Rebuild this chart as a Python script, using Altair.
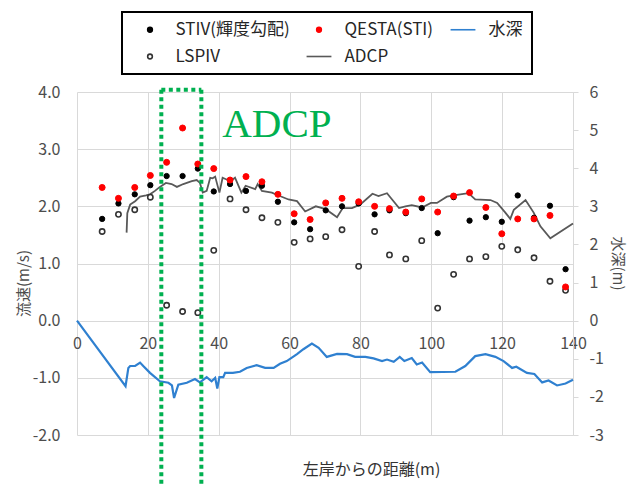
import altair as alt
import pandas as pd

# ---- measurement stations (distance from left bank, m) and surface velocities (m/s)
dist = [7.1, 11.7, 16.3, 20.7, 25.3, 29.8, 34.1, 38.6, 43.2, 47.7, 52.2, 56.7, 61.3, 65.8, 70.2,
        74.8, 79.5, 84.0, 88.2, 92.8, 97.3, 101.8, 106.3, 110.8, 115.4, 119.9, 124.4, 129.0, 133.5, 137.9]
stiv = [1.78, 2.05, 2.21, 2.37, 2.53, 2.53, 2.66, 2.26, 2.39, 2.27, 2.36, 2.08, 1.72, 1.60, 1.93,
        2.00, 2.05, 1.86, 1.93, 1.88, 1.97, 1.53, 2.16, 1.75, 1.81, 1.73, 2.19, 1.80, 2.01, 0.90]
qesta = [2.33, 2.14, 2.33, 2.54, 2.77, 3.37, 2.74, 2.66, 2.46, 2.52, 2.43, 2.21, 1.87, 1.77, 2.06,
         2.14, 2.08, 2.00, 1.96, 1.90, 2.13, 1.90, 2.18, 2.24, 1.98, 1.52, 1.78, 1.78, 1.84, 0.59]
lspiv = [1.56, 1.86, 1.94, 2.16, 0.27, 0.16, 0.14, 1.23, 2.13, 1.94, 1.80, 1.72, 1.37, 1.43, 1.47,
         1.59, 0.95, 1.56, 1.15, 1.08, 1.40, 0.22, 0.81, 1.08, 1.12, 1.30, 1.24, 1.10, 0.69, 0.53]

# ---- ADCP velocity profile (m/s)
adcp_x = [14.0, 14.2, 15.0, 16.4, 17.8, 19.5, 20.6, 22.0, 23.4, 25.1, 26.7, 28.2, 30.0, 32.4, 33.8,
          34.7, 35.5, 36.6, 37.6, 38.3, 39.0, 40.2, 41.1, 42.2, 43.5, 44.6, 46.4, 47.6, 50.3, 51.0,
          52.2, 55.0, 56.9, 59.7, 62.1, 64.4, 67.4, 70.2, 73.4, 75.0, 77.6, 79.9, 83.4, 85.1, 87.5,
          90.9, 92.7, 94.5, 97.4, 99.9, 101.6, 104.4, 106.3, 110.5, 112.4, 116.7, 118.6, 120.9,
          122.3, 123.3, 126.6, 128.9, 130.8, 133.6, 140.0]
adcp_v = [1.54, 1.88, 2.03, 2.09, 2.17, 2.19, 2.21, 2.27, 2.34, 2.41, 2.39, 2.34, 2.39, 2.44, 2.46,
          2.41, 2.24, 2.27, 2.50, 2.49, 2.52, 2.24, 2.50, 2.47, 2.45, 2.50, 2.24, 2.36, 2.30, 2.39,
          2.27, 2.24, 2.19, 2.12, 2.09, 1.91, 2.00, 1.95, 1.81, 1.97, 1.97, 2.03, 2.22, 2.18, 2.23,
          1.97, 2.00, 2.02, 1.98, 2.06, 2.06, 2.17, 2.19, 2.23, 2.12, 2.11, 2.06, 1.89,
          1.78, 1.94, 2.11, 1.89, 1.65, 1.44, 1.70]

# ---- river bed profile (water depth, m, drawn negative)
depth_x = [0.0, 13.7, 14.5, 15.0, 16.4, 17.8, 18.7, 20.6, 23.4, 25.8, 26.8, 27.4, 28.6, 31.0, 33.3,
           34.7, 36.6, 38.0, 39.0, 39.6, 40.2, 41.3, 41.8, 44.0, 46.0, 47.9, 50.7, 53.1, 55.5, 57.3,
           59.2, 62.1, 63.9, 66.3, 68.2, 70.5, 73.4, 76.2, 78.5, 81.4, 83.7, 86.1, 87.5, 89.4, 91.1,
           92.4, 94.5, 95.9, 97.4, 99.7, 106.8, 109.6, 112.4, 115.3, 118.1, 120.4, 122.8, 124.0,
           127.0, 129.1, 131.3, 133.1, 135.5, 137.9, 140.0]
depth_v = [0.0, -1.72, -1.24, -1.19, -1.19, -1.10, -1.19, -1.37, -1.59, -1.63, -1.70, -2.03, -1.68,
           -1.63, -1.53, -1.62, -1.48, -1.59, -1.50, -1.78, -1.48, -1.48, -1.37, -1.37, -1.34, -1.24,
           -1.17, -1.24, -1.24, -1.13, -1.06, -0.88, -0.75, -0.60, -0.71, -0.95, -0.87, -0.88, -0.95,
           -0.95, -0.99, -1.06, -1.02, -1.08, -0.95, -1.06, -0.98, -1.15, -1.10, -1.35, -1.34, -1.19,
           -0.93, -0.88, -0.95, -1.06, -1.24, -1.21, -1.37, -1.40, -1.62, -1.57, -1.70, -1.65, -1.55]

# legend entries, listed column by column (two rows)
SERIES = ["STIV(輝度勾配)", "LSPIV", "QESTA(STI)", "ADCP", "水深"]

FONT = "Noto Sans CJK JP"
AX_COL = "#4D4D4D"
GRID = "#D9D9D9"
GREEN = "#00B050"
BLUE = "#2F80D0"
GRAY = "#595959"

# dotted frame marking the ADCP section
box = pd.DataFrame({"bx": [23.8, 35.1], "top": [4.04, 4.04], "bot": [-3.2, -3.2]})
box_top = pd.DataFrame({"x0": [23.8], "x1": [35.1], "top": [4.04]})
label = pd.DataFrame({"x": [41.0], "y": [3.22], "t": ["ADCP"]})

x_scale = alt.Scale(domain=[0, 140], nice=False, zero=False)
yl_scale = alt.Scale(domain=[-2, 4], nice=False, zero=False)
yr_scale = alt.Scale(domain=[-3, 6], nice=False, zero=False)

x_axis = alt.Axis(values=list(range(0, 141, 20)), title="左岸からの距離(m)", offset=-114,
                  ticks=False, domain=False, labelPadding=14, labelFlush=False,
                  grid=True, gridColor=GRID, labelFont=FONT, labelFontSize=16, labelColor=AX_COL,
                  titleFont=FONT, titleFontSize=16, titleFontWeight="normal", titleColor="#333333",
                  titleX=294, titleY=148, titleAlign="center", titleBaseline="middle")
yl_axis = alt.Axis(values=[-2, -1, 0, 1, 2, 3, 4], title="流速(m/s)", orient="left",
                   labelExpr="(datum.value < 0 ? '-' : '') + format(abs(datum.value), '.1f')",
                   ticks=False, tickSize=0, domain=False, labelPadding=17, grid=True, gridColor=GRID,
                   labelFont=FONT, labelFontSize=16, labelColor=AX_COL,
                   titleFont=FONT, titleFontSize=15, titleFontWeight="normal", titleColor=AX_COL,
                   titleX=-54, titleY=191, titleAngle=270, titleAlign="center", titleBaseline="middle")
yr_axis = alt.Axis(values=list(range(-3, 7)), title="水深(m)", orient="right",
                   labelExpr="(datum.value < 0 ? '-' : '') + format(abs(datum.value), 'd')",
                   ticks=True, tickSize=5, tickColor=GRID, domain=True, domainColor=GRID,
                   labelPadding=11, grid=False, labelFont=FONT, labelFontSize=16, labelColor=AX_COL,
                   titleFont=FONT, titleFontSize=15, titleFontWeight="normal", titleColor=AX_COL,
                   titleX=44, titleY=171, titleAngle=90, titleAlign="center", titleBaseline="middle")


def X(field):
    return alt.X(f"{field}:Q", scale=x_scale, axis=x_axis)


def YL(field):
    return alt.Y(f"{field}:Q", scale=yl_scale, axis=yl_axis)


legend = alt.Legend(orient="none", legendX=45, legendY=-80, columns=3, title=None)
line_sym = "M-5.3,0H5.3"
fill_enc = alt.Fill("series:N", legend=legend,
                    scale=alt.Scale(domain=SERIES, range=["#000000", "#FFFFFF", "#FF0000",
                                                          "transparent", "transparent"]))
stroke_enc = alt.Stroke("series:N", legend=legend,
                        scale=alt.Scale(domain=SERIES, range=["#000000", "#333333", "#FF0000",
                                                              GRAY, BLUE]))
shape_enc = alt.Shape("series:N", legend=legend,
                      scale=alt.Scale(domain=SERIES, range=["circle", "circle", "circle",
                                                            line_sym, line_sym]))


def points(values, name, size, sw):
    df = pd.DataFrame({"dist": dist, "v": values, "series": name})
    return alt.Chart(df).mark_point(size=size, strokeWidth=sw, opacity=1, fillOpacity=1).encode(
        x=X("dist"), y=YL("v"), fill=fill_enc, stroke=stroke_enc, shape=shape_enc)


depth_line = alt.Chart(pd.DataFrame({"dist": depth_x, "d": depth_v})).mark_line(
    color=BLUE, strokeWidth=2.2).encode(
    x=X("dist"), y=alt.Y("d:Q", scale=yr_scale, axis=yr_axis))

adcp_line = alt.Chart(pd.DataFrame({"dist": adcp_x, "v": adcp_v})).mark_line(
    color=GRAY, strokeWidth=1.8).encode(x=X("dist"), y=YL("v"))

box_sides = alt.Chart(box).mark_rule(color=GREEN, strokeWidth=4, strokeDash=[4, 3.5]).encode(
    x=X("bx"), y=YL("top"), y2="bot:Q")
box_upper = alt.Chart(box_top).mark_rule(color=GREEN, strokeWidth=4, strokeDash=[4, 3.5]).encode(
    x=X("x0"), x2="x1:Q", y=YL("top"))
adcp_text = alt.Chart(label).mark_text(font="Liberation Serif", fontSize=41, color=GREEN,
                                       align="left", baseline="alphabetic").encode(
    x=X("x"), y=YL("y"), text="t:N")

velocity = alt.layer(
    adcp_line,
    points(lspiv, "LSPIV", 28, 1.6),
    points(stiv, "STIV(輝度勾配)", 28, 1),
    points(qesta, "QESTA(STI)", 36, 1),
    box_sides, box_upper, adcp_text,
)

chart = alt.layer(depth_line, velocity).resolve_scale(y="independent").properties(
    width=496, height=343,
    padding={"left": 77, "top": 92, "right": 57, "bottom": 49},
    autosize=alt.AutoSizeParams(type="none"),
).configure_view(stroke=None).configure_legend(
    strokeColor="#000000", strokeWidth=2, fillColor="#FFFFFF", padding=9,
    labelFont=FONT, labelFontSize=17, labelColor="#262626", labelOffset=17,
    symbolSize=22, symbolStrokeWidth=1.6, symbolOffset=10.5, symbolOpacity=1,
    columnPadding=10, rowPadding=9,
)

chart.save("out.html", embed_options={"renderer": "svg", "actions": False})
